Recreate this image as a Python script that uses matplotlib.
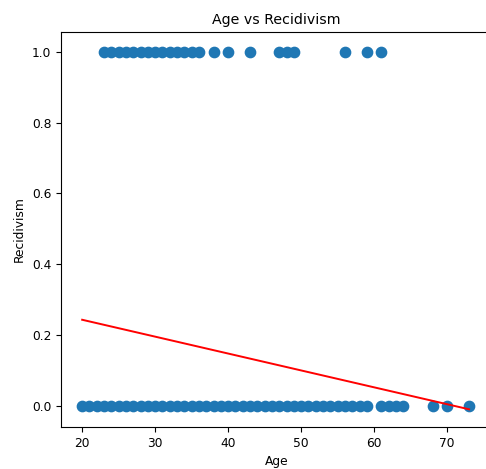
import numpy as np
import matplotlib
matplotlib.use('Agg')
import matplotlib.pyplot as plt

# ages of people who reoffended (recidivism = 1)
age_recid = list(range(23, 37)) + [38, 40, 43, 47, 48, 49, 56, 59, 61]
# ages of people who did not reoffend (recidivism = 0)
age_norecid = list(range(20, 60)) + [61, 62, 63, 64, 68, 70, 73]

ages = np.array(age_recid + age_norecid)
recid = np.array([1] * len(age_recid) + [0] * len(age_norecid))

# fitted regression line (endpoints)
line_x = [20, 73]
line_y = [0.243, -0.01]

fig = plt.figure(figsize=(4.86, 4.69), dpi=100)
# right spine sits just outside the image, as in the cropped original
ax = fig.add_axes([61 / 486, 1 - 427 / 469, (492 - 61) / 486, (427 - 32) / 469])

ax.scatter(ages, recid, s=55, color='#1f77b4')
ax.plot(line_x, line_y, color='red', lw=1.4)

ax.set_title('Age vs Recidivism', fontsize=10.2)
ax.set_xlabel('Age', fontsize=8.8)
ax.set_ylabel('Recidivism', fontsize=8.8)
ax.set_xticks([20, 30, 40, 50, 60, 70])
ax.set_yticks([0.0, 0.2, 0.4, 0.6, 0.8, 1.0])
ax.tick_params(labelsize=8.8)
ax.set_xlim(17.1, 17.1 + 431 / 7.3)
ax.set_ylim(-0.06, 1.056)

fig.savefig('out.png', dpi=100)
